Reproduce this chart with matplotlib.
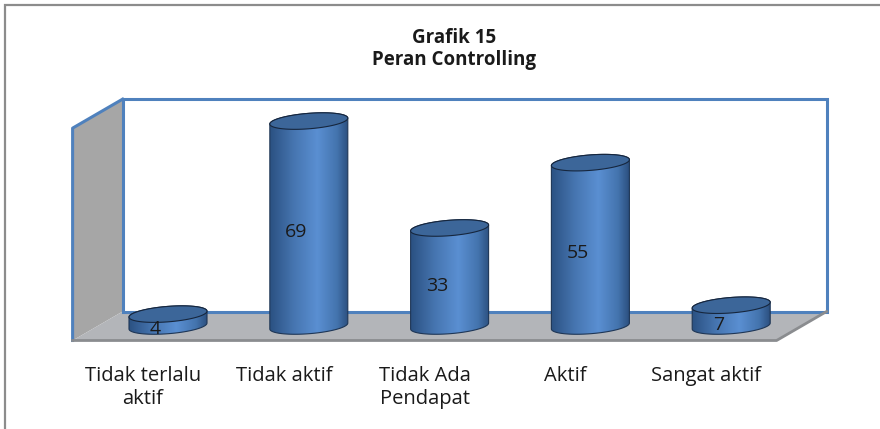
import numpy as np
import matplotlib
matplotlib.use("Agg")
import matplotlib.pyplot as plt
from matplotlib.patches import Polygon, Rectangle
from matplotlib.colors import LinearSegmentedColormap

plt.rcParams['font.family'] = ['Open Sans', 'DejaVu Sans']

# data
categories = ["Tidak terlalu\naktif", "Tidak aktif", "Tidak Ada\nPendapat", "Aktif", "Sangat aktif"]
values = [4, 69, 33, 55, 7]
title = "Grafik 15\nPeran Controlling"

# 3d look (data units)
WALL_TOP = 71.5
DX, DY = 0.1775, 4.88        # half depth offset
RAD_X, RAD_Y = 0.277, 2.6    # cylinder ellipse radii
SHEAR = 3.6                  # small tilt of the ellipses

BLUE_EDGE = "#4F81BD"
body_cmap = LinearSegmentedColormap.from_list(
    "cyl", [(0, "#2B5182"), (0.3, "#4675B0"), (0.6, "#5A8FD2"), (0.85, "#4474AE"), (1, "#2A4D7C")])

fig = plt.figure(figsize=(8.8, 4.29), dpi=100)
ax = fig.add_axes([0, 0, 1, 1])
ax.axis("off")
xlim = (-168 / 140.8, (880 - 168) / 140.8)
ylim = ((326 - 429) / 2.97, 326 / 2.97)

# outer chart border
fig.patches.append(Rectangle((5 / 880, -0.05), 1.1, 1.05 - 5 / 429, transform=fig.transFigure,
                             fill=False, ec="#8C8C8C", lw=1.6))

n = len(values)
left, right = -0.5, n - 0.5

# side wall
ax.add_patch(Polygon([(left - DX, -DY), (left + DX, DY), (left + DX, WALL_TOP + DY), (left - DX, WALL_TOP - DY)],
                     closed=True, fc="#A6A6A6", ec="none", zorder=1))
# floor
ax.add_patch(Polygon([(left - DX, -DY), (right - DX, -DY), (right + DX, DY), (left + DX, DY)],
                     closed=True, fc="#B3B5B9", ec="none", zorder=1))
ax.plot([left - DX, right - DX, right + DX], [-DY, -DY, DY], color="#8A8C8F", lw=2, zorder=1.5)
# back wall
ax.add_patch(Polygon([(left + DX, DY), (right + DX, DY), (right + DX, WALL_TOP + DY), (left + DX, WALL_TOP + DY)],
                     closed=True, fc="white", ec=BLUE_EDGE, lw=2.2, zorder=1.2))
ax.plot([left - DX, left - DX, left + DX], [-DY, WALL_TOP - DY, WALL_TOP + DY],
        color=BLUE_EDGE, lw=2.2, zorder=1.3)

grad = np.linspace(0, 1, 256).reshape(1, -1)
t_front = np.linspace(np.pi, 2 * np.pi, 60)
t_back = np.linspace(0, np.pi, 60)
t_full = np.linspace(0, 2 * np.pi, 120)

for i, v in enumerate(values):
    cx = i
    def ell(t, yc):
        return np.column_stack([cx + RAD_X * np.cos(t), yc + RAD_Y * np.sin(t) + SHEAR * RAD_X * np.cos(t)])
    body = np.vstack([ell(t_front, 0), ell(t_back, v)])
    poly = Polygon(body, closed=True, fc="none", ec="#1E3656", lw=0.8, zorder=3.1)
    ax.add_patch(poly)
    im = ax.imshow(grad, cmap=body_cmap, aspect="auto", zorder=3,
                   extent=(cx - RAD_X, cx + RAD_X, -RAD_Y - 2, v + RAD_Y + 2))
    im.set_clip_path(poly)
    ax.add_patch(Polygon(ell(t_full, v), closed=True, fc="#3C6699", ec="#16263D", lw=0.8, zorder=3.2))
    ax.text(cx - 0.09, v / 2 - 3.0, str(v), ha="center", va="center", fontsize=14, color="#1A1A1A", zorder=4)
    ax.text(cx - DX, -13.4, categories[i], ha="center", va="top", fontsize=14.5, color="#1A1A1A",
            linespacing=1.2, multialignment="center")

ax.set_xlim(*xlim)
ax.set_ylim(*ylim)

fig.text(454 / 880, 1 - 28 / 429, title, ha="center", va="top", fontsize=13.5, fontweight="bold",
         linespacing=1.15, color="#1A1A1A")

fig.savefig("out.png", dpi=100)
